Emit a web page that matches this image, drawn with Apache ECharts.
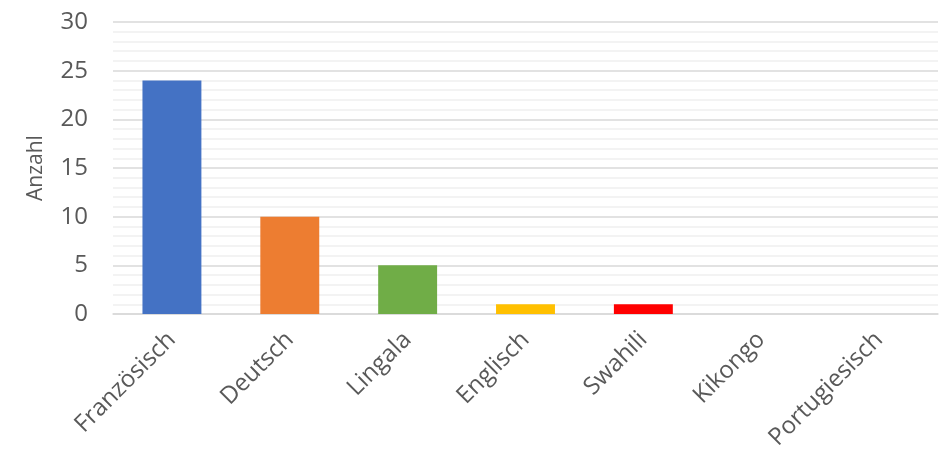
<!DOCTYPE html>
<html>
<head>
<meta charset="utf-8">
<script src="https://cdn.jsdelivr.net/npm/echarts@6/dist/echarts.min.js"></script>
<style>
  html, body { margin: 0; padding: 0; background: #fff; }
  #chart { width: 949px; height: 459px; }
</style>
</head>
<body>
<div id="chart"></div>
<script>
// Languages and their counts
const categories = ['Französisch', 'Deutsch', 'Lingala', 'Englisch', 'Swahili', 'Kikongo', 'Portugiesisch'];
const counts = [24, 10, 5, 1, 1, 0, 0];
const barColors = ['#4472c4', '#ed7d31', '#70ad47', '#ffc000', '#ff0000', '#5b9bd5', '#264478'];
const yTicks = [0, 5, 10, 15, 20, 25, 30];

const font = '"Open Sans", sans-serif';
const chart = echarts.init(document.getElementById('chart'));
chart.setOption({
  animation: false,
  grid: { left: 113, right: 11, top: 22, bottom: 145 },
  xAxis: {
    type: 'category',
    data: categories,
    axisLine: { lineStyle: { color: '#d9d9d9', width: 1.5 } },
    axisTick: { show: false },
    axisLabel: {
      rotate: 45, margin: 22, color: '#595959',
      fontFamily: font, fontSize: 24, interval: 0
    }
  },
  yAxis: {
    type: 'value',
    min: yTicks[0], max: yTicks[yTicks.length - 1], interval: 5,
    name: 'Anzahl',
    nameLocation: 'middle',
    nameGap: 66,
    nameTextStyle: { color: '#595959', fontFamily: font, fontSize: 21 },
    axisLine: { show: false },
    axisTick: { show: false },
    axisLabel: { color: '#595959', fontFamily: font, fontSize: 24, margin: 25 },
    splitLine: { lineStyle: { color: '#d9d9d9', width: 1.5 } },
    minorTick: { show: false, splitNumber: 5 },
    minorSplitLine: { show: true, lineStyle: { color: '#f0f0f0', width: 1.5 } }
  },
  series: [{
    type: 'bar',
    barWidth: '50%',
    data: counts.map((v, i) => ({ value: v, itemStyle: { color: barColors[i] } }))
  }]
});
</script>
</body>
</html>
